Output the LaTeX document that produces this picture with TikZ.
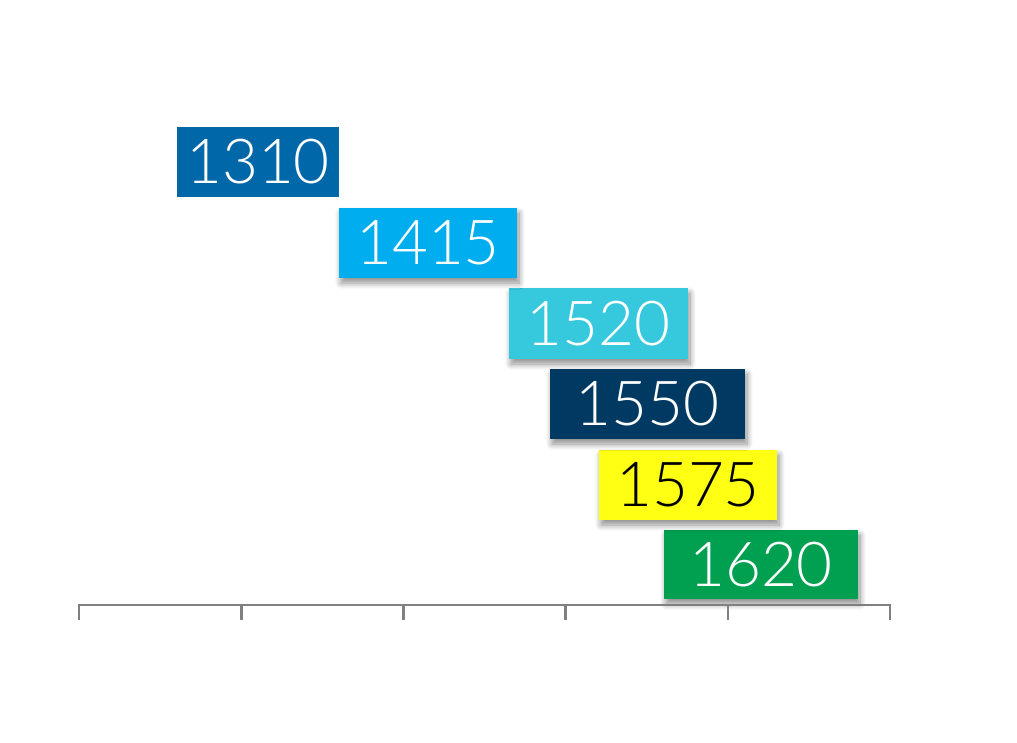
\documentclass[tikz,border=0pt]{standalone}
\usepackage{fontspec}
\newfontfamily\numfont{Lato Light}
\usetikzlibrary{shadows.blur}
\definecolor{cA}{HTML}{0068A8}
\definecolor{cB}{HTML}{00AEEF}
\definecolor{cC}{HTML}{36C8DC}
\definecolor{cD}{HTML}{003A63}
\definecolor{cE}{HTML}{FFFF14}
\definecolor{cF}{HTML}{00A050}
\definecolor{axisgray}{HTML}{808080}
\tikzset{
  yearbox/.style={inner sep=0pt, outer sep=0pt, font=\numfont\fontsize{62}{62}\selectfont, text=white},
  shad/.style={blur shadow={shadow xshift=2pt, shadow yshift=-5pt, shadow blur steps=10, shadow opacity=45, shadow blur radius=6pt}},
  axisline/.style={draw=axisgray, line width=2.6pt},
}
\begin{document}
\begin{tikzpicture}[x=1pt,y=-1pt]
\useasboundingbox (0,0) rectangle (1017,743);
% boxes: fill rectangles with shadows, then text nodes
\path[fill=cF, shad] (664,530) rectangle (858,599);
\path[fill=cE, shad] (599,450) rectangle (777,520);
\path[fill=cD, shad] (550,369) rectangle (745,439);
\path[fill=cC, shad] (509,288) rectangle (688,359);
\path[fill=cB, shad] (339,208) rectangle (517,278);
\path[fill=cA] (177,127) rectangle (339,197);
\node[yearbox] (y1310) at (258,162) {1310};
\node[yearbox] (y1415) at (428,243) {1415};
\node[yearbox] (y1520) at (598.5,323.5) {1520};
\node[yearbox] (y1550) at (647.5,404) {1550};
\node[yearbox, text=black] (y1575) at (688,485) {1575};
\node[yearbox] (y1620) at (761,564.5) {1620};
% axis
\coordinate (a0) at (79,605);
\coordinate (a5) at (890,605);
\draw[axisline] (a0) -- (a5);
\foreach \x in {79,241.2,403.4,565.6,727.8,890} {
  \draw[axisline] (\x,604) -- (\x,620);
}
\end{tikzpicture}
\end{document}
